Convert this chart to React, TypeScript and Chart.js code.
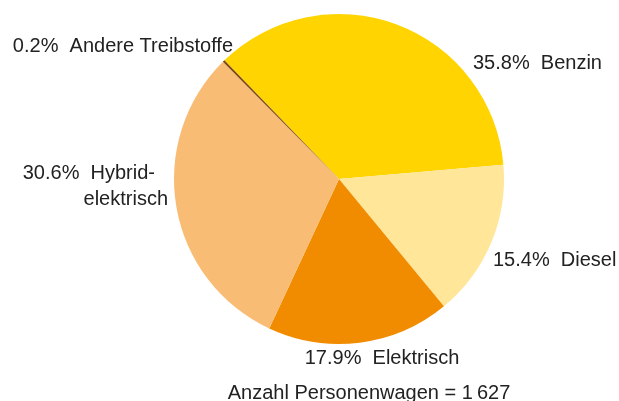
import React, { useEffect, useRef } from "react";
import { Chart, registerables } from "chart.js";

Chart.register(...registerables);

const categories = ["Benzin", "Diesel", "Elektrisch", "Hybrid-elektrisch", "Andere Treibstoffe"];
const shares = [35.8, 15.4, 17.9, 30.6, 0.2];
const percentLabels = ["35.8%", "15.4%", "17.9%", "30.6%", "0.2%"];
const nameLines = [["Benzin"], ["Diesel"], ["Elektrisch"], ["Hybrid-", "elektrisch"], ["Andere Treibstoffe"]];
const totalLabel = "Anzahl Personenwagen = 1\u2009627";

const colors = ["#FFD400", "#FFE699", "#F18C00", "#F9BC74", "#7E4A12"];

// label anchors relative to pie centre (px)
const labelPlacement: any[] = [
  { dx: 134, dy: -110, align: "left" },
  { dx: 154, dy: 87, align: "left" },
  { dx: 43, dy: 185, align: "center" },
  { dx: -184, dy: 0, align: "right", l2dx: -171, l2dy: 26 },
  { dx: -106, dy: -127, align: "right" },
];

const FONT = '20px "Liberation Sans", Arial, sans-serif';

const labelPlugin = {
  id: "pieLabels",
  afterDatasetsDraw(chart: any) {
    const meta = chart.getDatasetMeta(0);
    const arc = meta.data[0];
    if (!arc) return;
    const cx = arc.x;
    const cy = arc.y;
    const ctx = chart.ctx;
    ctx.save();
    ctx.font = FONT;
    ctx.fillStyle = "#222222";
    ctx.textBaseline = "alphabetic";
    labelPlacement.forEach((p, i) => {
      const lines = nameLines[i];
      ctx.textAlign = p.align;
      ctx.fillText(percentLabels[i] + "  " + lines[0], cx + p.dx, cy + p.dy);
      if (lines.length > 1) {
        ctx.fillText(lines[1], cx + p.l2dx, cy + p.l2dy);
      }
    });
    ctx.textAlign = "center";
    ctx.fillText(totalLabel, cx + 30, cy + 220);
    ctx.restore();
  },
};

export default function App() {
  const ref = useRef<HTMLCanvasElement>(null);
  useEffect(() => {
    document.body.style.margin = "0";
    const chart = new Chart(ref.current as HTMLCanvasElement, {
      type: "pie",
      data: {
        labels: categories,
        datasets: [
          {
            data: shares,
            backgroundColor: colors,
            borderWidth: 0,
            hoverOffset: 0,
          },
        ],
      },
      options: {
        responsive: false,
        animation: false,
        rotation: -44,
        layout: { padding: { left: 174, right: 115, top: 14, bottom: 57 } },
        plugins: {
          legend: { display: false },
          tooltip: { enabled: false },
          title: { display: false },
        },
      },
      plugins: [labelPlugin],
    });
    return () => chart.destroy();
  }, []);
  return (
    <div style={{ width: 619, height: 401, background: "#ffffff" }}>
      <canvas ref={ref} width={619} height={401} />
    </div>
  );
}
